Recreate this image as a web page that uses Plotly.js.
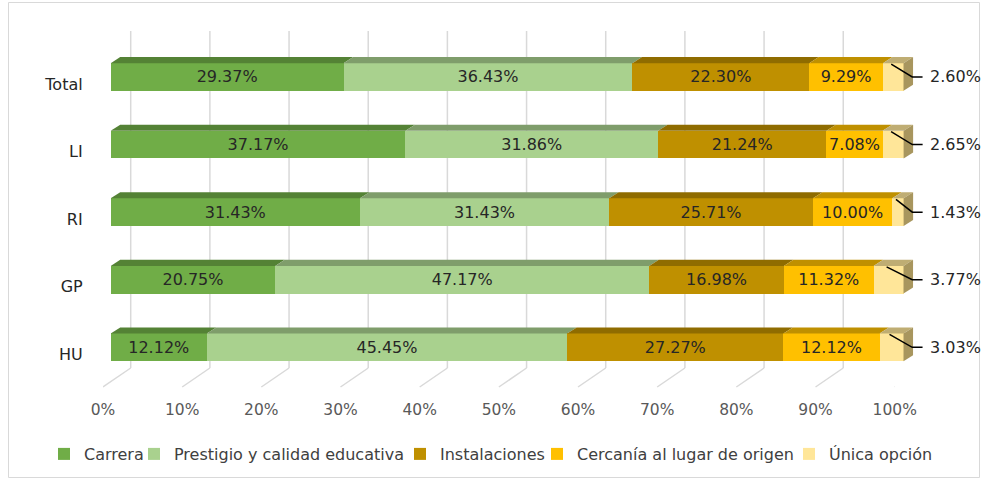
<!DOCTYPE html>
<html>
<head>
<meta charset="utf-8">
<script src="https://cdn.plot.ly/plotly-3.0.1.min.js"></script>
<style>html,body{margin:0;padding:0;background:#fff}#chart{width:984px;height:480px}</style>
</head>
<body>
<div id="chart"></div>
<script>
// ---- data ----
const categories = ['Total', 'LI', 'RI', 'GP', 'HU'];
const seriesNames = ['Carrera', 'Prestigio y calidad educativa', 'Instalaciones', 'Cercanía al lugar de origen', 'Única opción'];
const carrera     = [29.37, 37.17, 31.43, 20.75, 12.12];
const prestigio   = [36.43, 31.86, 31.43, 47.17, 45.45];
const instalac    = [22.30, 21.24, 25.71, 16.98, 27.27];
const cercania    = [ 9.29,  7.08, 10.00, 11.32, 12.12];
const unica       = [ 2.60,  2.65,  1.43,  3.77,  3.03];
const tickValues  = [0, 10, 20, 30, 40, 50, 60, 70, 80, 90, 100];
const tickLabels  = ['0%', '10%', '20%', '30%', '40%', '50%', '60%', '70%', '80%', '90%', '100%'];

// ---- styles ----
const W = 984, H = 480;
const fx = p => p / W, fy = p => 1 - p / H;
const FONT = 'DejaVu Sans';
const frontColors = ['#70AD47', '#A9D18E', '#BF9000', '#FFC000', '#FFE699'];
const topColors   = ['#548235', '#7F9D6B', '#8F6C00', '#BF9000', '#BFAD73'];
const sideColor   = '#A8965E';
const BAR_W = 0.41;       // bar thickness (y units)
const DX = 1.2, DY = 0.089; // 3D depth offsets (x units, y units)
const BACK = 3.5;         // back wall offset on label-plane axis
const PX_PER_UNIT = 7.929; // front-plane scale
const X_MAX = 110;         // room on the right for outside labels

const allSeries = [carrera, prestigio, instalac, cercania, unica];
const yIdx = categories.map((c, i) => categories.length - 1 - i);

const traces = allSeries.map((vals, s) => ({
  type: 'bar', orientation: 'h', name: seriesNames[s],
  x: vals, y: yIdx, width: BAR_W,
  marker: {color: frontColors[s], line: {width: 0}},
  texttemplate: '%{x:.2f}%',
  textposition: s === 4 ? 'none' : 'inside',
  insidetextanchor: 'middle', textangle: 0, constraintext: 'none',
  textfont: {family: FONT, size: 16, color: '#262626'},
  hoverinfo: 'skip',
  legend: s === 0 ? 'legend' : 'legend' + (s + 1)
}));
traces.push({type: 'scatter', x: [], y: [], xaxis: 'x2', yaxis: 'y', showlegend: false, hoverinfo: 'skip'});

const shapes = [];
// frame
shapes.push({type: 'rect', xref: 'paper', yref: 'paper', x0: fx(8.5), x1: fx(979.5), y0: fy(477.5), y1: fy(2.5),
  line: {color: '#d9d9d9', width: 1}, layer: 'below'});
// back wall gridlines + floor lines
tickValues.forEach(t => {
  shapes.push({type: 'line', xref: 'x2', yref: 'paper', x0: t + BACK, x1: t + BACK, y0: fy(368), y1: fy(31),
    line: {color: '#d9d9d9', width: 1.5}, layer: 'below'});
  shapes.push({type: 'line', xref: 'x2', yref: 'paper', x0: t + BACK, x1: t, y0: fy(368), y1: fy(387),
    line: {color: '#d9d9d9', width: 1.5}, layer: 'below'});
});
// 3D faces
const annotations = [];
yIdx.forEach((yc, r) => {
  let cum = 0;
  const yt = yc + BAR_W / 2, yb = yc - BAR_W / 2;
  allSeries.forEach((vals, s) => {
    const x0 = cum, x1 = cum + vals[r];
    cum = x1;
    shapes.push({type: 'path', xref: 'x', yref: 'y',
      path: `M${x0},${yt} L${x1},${yt} L${x1 + DX},${yt + DY} L${x0 + DX},${yt + DY} Z`,
      fillcolor: topColors[s], line: {width: 0}});
  });
  shapes.push({type: 'path', xref: 'x', yref: 'y',
    path: `M${cum},${yb} L${cum},${yt} L${cum + DX},${yt + DY} L${cum + DX},${yb + DY} Z`,
    fillcolor: sideColor, line: {width: 0}});
  // leader line + outside label for last series
  const last = unica[r];
  const mid = cum - last / 2 - 0.25;
  shapes.push({type: 'path', xref: 'x', yref: 'y',
    path: `M${mid},${yt - 0.015} L${cum + 1.1},${yc} L${cum + 2.4},${yc}`,
    line: {color: '#000000', width: 1.5}});
  annotations.push({xref: 'x', yref: 'y', x: cum + 3.1, y: yc, xanchor: 'left', yanchor: 'middle',
    text: last.toFixed(2) + '%', showarrow: false, font: {family: FONT, size: 16, color: '#262626'}});
});

const legendTextX = [84, 174, 440, 577, 829];
const legendBase = {orientation: 'h', xanchor: 'left', yanchor: 'middle', y: fy(454),
  bgcolor: 'rgba(0,0,0,0)', font: {family: FONT, size: 16, color: '#404040'}, itemwidth: 30};
const layout = {
  width: W, height: H,
  margin: {l: 0, r: 0, t: 0, b: 0},
  paper_bgcolor: '#ffffff', plot_bgcolor: 'rgba(0,0,0,0)',
  barmode: 'stack', bargap: 0,
  font: {family: FONT, size: 16, color: '#404040'},
  xaxis: {domain: [fx(110.7), fx(110.7 + X_MAX * PX_PER_UNIT)], range: [0, X_MAX], anchor: 'y',
    showgrid: false, zeroline: false, showline: false, showticklabels: false, ticks: '', fixedrange: true},
  xaxis2: {domain: [fx(103), fx(894.7)], range: [0, 100], anchor: 'y',
    tickvals: tickValues, ticktext: tickLabels, showgrid: false, zeroline: false, showline: false,
    ticks: '', ticklabelstandoff: 17, tickfont: {family: FONT, size: 15.5, color: '#595959'}, fixedrange: true},
  yaxis: {domain: [fy(381.1), fy(43.2)], range: [-0.5, 4.5], anchor: 'x',
    tickvals: yIdx, ticktext: categories, showgrid: false, zeroline: false, showline: false, ticks: '',
    ticklabelstandoff: 27, ticklabelshift: 7,
    tickfont: {family: FONT, size: 16, color: '#262626'}, fixedrange: true},
  shapes: shapes,
  annotations: annotations,
  showlegend: true,
  legend:  Object.assign({}, legendBase, {x: fx(legendTextX[0] - 40)}),
  legend2: Object.assign({}, legendBase, {x: fx(legendTextX[1] - 40)}),
  legend3: Object.assign({}, legendBase, {x: fx(legendTextX[2] - 40)}),
  legend4: Object.assign({}, legendBase, {x: fx(legendTextX[3] - 40)}),
  legend5: Object.assign({}, legendBase, {x: fx(legendTextX[4] - 40)})
};
Plotly.newPlot('chart', traces, layout, {displayModeBar: false, staticPlot: true});
</script>
</body>
</html>
